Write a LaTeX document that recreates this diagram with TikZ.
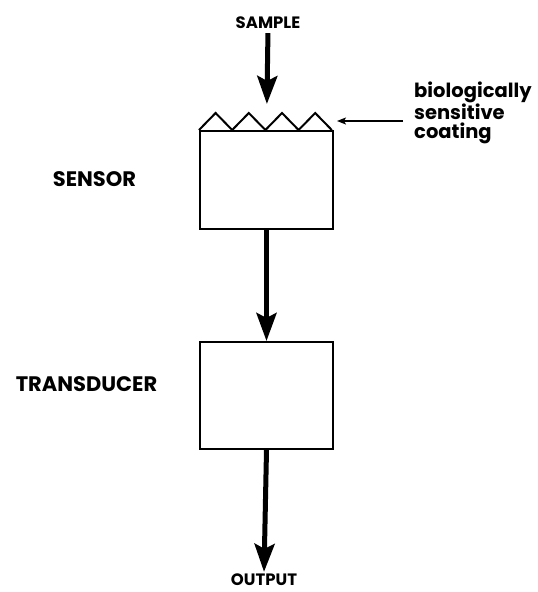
\documentclass[tikz,border=0pt]{standalone}
\usepackage{fontspec}
\setmainfont{Poppins}
\usetikzlibrary{arrows.meta}
\tikzset{
  box/.style={draw, line width=2pt, minimum width=133pt, inner sep=0pt},
  lbl/.style={font=\bfseries\fontsize{21}{18}\selectfont, inner sep=1pt},
  notelbl/.style={font=\bfseries\fontsize{19.5}{18.5}\selectfont, inner sep=1pt, align=left},
  smalllbl/.style={font=\bfseries\fontsize{16.5}{16}\selectfont, inner sep=1pt},
  bigarrow/.style={line width=5pt, -{Stealth[length=28pt, width=20pt, inset=5pt]}},
  thinarrow/.style={line width=1.3pt, -{Stealth[length=9pt, width=7pt, inset=2pt]}}
}
\begin{document}
\begin{tikzpicture}[x=1pt, y=-1pt]
  \useasboundingbox (0,0) rectangle (538,592);
  \node[smalllbl] (sample) at (268,23) {SAMPLE};
  \node[box, minimum height=98pt] (sensor) at (266.5,180) {};
  \node[box, minimum height=107pt] (transducer) at (266.5,395.5) {};
  \node[smalllbl] (output) at (264,580) {OUTPUT};
  \node[lbl] (sensorlbl) at (94.5,179) {SENSOR};
  \node[lbl] (transducerlbl) at (86.5,384) {TRANSDUCER};
  \node[notelbl, anchor=west] (coating) at (413,113) {biologically\\sensitive\\coating};
  \draw[line width=2pt, line join=miter]
    (sensor.north west)
    \foreach \i in {0,...,3} { -- ++(16.6,-17) -- ++(16.6,17) };
  \coordinate (ctip) at (337,121);
  \begin{scope}
    \draw[bigarrow, shorten <=3pt, shorten >=26pt] (sample.south) to (sensor.north);
    \draw[bigarrow] (sensor.south) to (transducer.north);
    \draw[bigarrow, shorten >=1pt] (transducer.south) to (output.north);
    \draw[thinarrow] ([xshift=-10pt]coating.west |- ctip) to (ctip);
  \end{scope}
\end{tikzpicture}
\end{document}
